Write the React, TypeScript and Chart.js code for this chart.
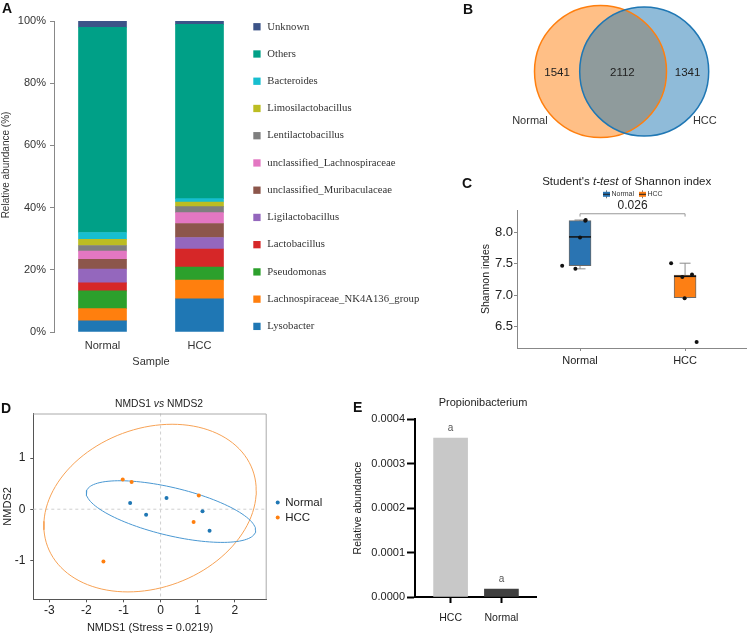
import React, { useEffect, useRef } from 'react';
import { Chart, registerables } from 'chart.js';

Chart.register(...registerables);

const FONT = "'Liberation Sans', Arial, sans-serif";
const SERIF = "'Liberation Serif', 'Times New Roman', serif";

// ---------- Panel A: stacked relative abundance ----------
const A_SAMPLES = ['Normal', 'HCC'];
const A_TAXA = [
  'Lysobacter',
  'Lachnospiraceae_NK4A136_group',
  'Pseudomonas',
  'Lactobacillus',
  'Ligilactobacillus',
  'unclassified_Muribaculaceae',
  'unclassified_Lachnospiraceae',
  'Lentilactobacillus',
  'Limosilactobacillus',
  'Bacteroides',
  'Others',
  'Unknown',
];
const A_NORMAL = [3.6, 3.9, 5.7, 2.6, 4.4, 3.2, 2.6, 1.8, 2.0, 2.2, 66.0, 2.0];
const A_HCC = [10.7, 6.0, 4.2, 5.8, 3.7, 4.5, 3.5, 1.9, 1.5, 1.1, 56.0, 1.1];
const A_COLORS = ['#1f77b4', '#ff7f0e', '#2ca02c', '#d62728', '#9467bd', '#8c564b', '#e377c2', '#7f7f7f', '#bcbd22', '#17becf', '#00a087', '#3c5488'];
const A_Y_TICKS = [0, 20, 40, 60, 80, 100];

// ---------- Panel B: Venn ----------
const B_SETS = ['Normal', 'HCC'];
const B_COUNTS = [1541, 2112, 1341]; // Normal only, shared, HCC only
const B_COLORS = ['#ff7f0e', '#1f77b4'];
const B_FILLS = ['rgba(255,127,14,0.5)', 'rgba(31,119,180,0.5)'];
const B_CENTERS = [-0.331, 0.331];
const B_RADII = [66, 64.5];

// ---------- Panel C: boxplot of Shannon index ----------
const C_GROUPS = ['Normal', 'HCC'];
const C_NORMAL_VALUES = [7.47, 7.42, 7.92, 8.19, 8.2];
const C_NORMAL_JITTER = [-0.17, -0.044, 0, 0.05, 0.054];
const C_HCC_VALUES = [7.51, 7.29, 7.33, 6.95, 6.25];
const C_HCC_JITTER = [-0.133, -0.026, 0.066, -0.004, 0.11];
const C_Q1 = [7.47, 6.96];
const C_MEDIAN = [7.93, 7.3];
const C_Q3 = [8.19, 7.32];
const C_WLO = [7.42, 6.96];
const C_WHI = [8.2, 7.51];
const C_COLORS = ['#2a74b2', '#fd7f14'];
const C_Y_TICKS = [6.5, 7.0, 7.5, 8.0];
const C_P_VALUE = '0.026';

// ---------- Panel D: NMDS ----------
const D_NORMAL_X = [-0.82, -0.39, 0.16, 1.13, 1.32];
const D_NORMAL_Y = [0.12, -0.11, 0.22, -0.04, -0.42];
const D_HCC_X = [-1.02, -0.78, 1.03, 0.89, -1.54];
const D_HCC_Y = [0.58, 0.53, 0.27, -0.25, -1.02];
const D_X_TICKS = [-3, -2, -1, 0, 1, 2];
const D_Y_TICKS = [-1, 0, 1];
const D_CHI2_95 = 5.991;

// ---------- Panel E: Propionibacterium ----------
const E_GROUPS = ['HCC', 'Normal'];
const E_VALUES = [0.000357, 0.000018];
const E_COLORS = ['#c8c8c8', '#404040'];
const E_SIG = ['a', 'a'];
const E_Y_TICKS = [0, 0.0001, 0.0002, 0.0003, 0.0004];

// ---------- helpers ----------
function confEllipse(xs: number[], ys: number[]) {
  const n = xs.length;
  const mx = xs.reduce((a, b) => a + b, 0) / n;
  const my = ys.reduce((a, b) => a + b, 0) / n;
  let sxx = 0, syy = 0, sxy = 0;
  for (let i = 0; i < n; i++) {
    sxx += (xs[i] - mx) ** 2;
    syy += (ys[i] - my) ** 2;
    sxy += (xs[i] - mx) * (ys[i] - my);
  }
  sxx /= n - 1; syy /= n - 1; sxy /= n - 1;
  const k = Math.sqrt(D_CHI2_95);
  const l11 = Math.sqrt(sxx);
  const l21 = sxy / l11;
  const l22 = Math.sqrt(Math.max(syy - l21 * l21, 0));
  const pts: { x: number; y: number }[] = [];
  for (let i = 0; i <= 120; i++) {
    const t = (i / 120) * Math.PI * 2;
    pts.push({ x: mx + k * l11 * Math.cos(t), y: my + k * (l21 * Math.cos(t) + l22 * Math.sin(t)) });
  }
  return pts;
}

function drawRich(ctx: CanvasRenderingContext2D, parts: { t: string; i?: boolean }[], cx: number, cy: number, size: number, color: string) {
  ctx.save();
  ctx.textBaseline = 'middle';
  ctx.fillStyle = color;
  let total = 0;
  const widths = parts.map((p) => {
    ctx.font = `${p.i ? 'italic ' : ''}${size}px ${FONT}`;
    const w = ctx.measureText(p.t).width;
    total += w;
    return w;
  });
  let x = cx - total / 2;
  parts.forEach((p, k) => {
    ctx.font = `${p.i ? 'italic ' : ''}${size}px ${FONT}`;
    ctx.textAlign = 'left';
    ctx.fillText(p.t, x, cy);
    x += widths[k];
  });
  ctx.restore();
}

function ChartCanvas({ x, y, w, h, make }: { x: number; y: number; w: number; h: number; make: () => any }) {
  const ref = useRef<HTMLCanvasElement | null>(null);
  useEffect(() => {
    const chart = new Chart(ref.current as HTMLCanvasElement, make());
    return () => chart.destroy();
  }, []);
  return (
    <canvas
      ref={ref}
      width={w}
      height={h}
      style={{ position: 'absolute', left: x, top: y, width: w, height: h }}
    />
  );
}

const noPlugins = { legend: { display: false }, tooltip: { enabled: false }, title: { display: false } };

// ---------- Panel A ----------
const aPlugin = {
  id: 'aPlugin',
  afterDraw(chart: any) {
    const { ctx, chartArea } = chart;
    const ds = chart.data.datasets;
    const n = ds.length;
    ctx.save();
    ctx.textBaseline = 'middle';
    ctx.textAlign = 'left';
    ctx.font = `10.7px ${SERIF}`;
    for (let k = 0; k < n; k++) {
      const d = ds[n - 1 - k];
      const yy = chartArea.top + 5.7 + k * 27.24;
      ctx.fillStyle = d.backgroundColor;
      ctx.fillRect(chartArea.right + 5.3, yy - 3.6, 7.3, 7.3);
      ctx.fillStyle = '#333';
      ctx.fillText(d.label, chartArea.right + 19.3, yy);
    }
    ctx.save();
    ctx.translate(6.5, 165);
    ctx.rotate(-Math.PI / 2);
    ctx.textAlign = 'center';
    ctx.font = `10px ${FONT}`;
    ctx.fillStyle = '#333';
    ctx.fillText('Relative abundance (%)', 0, 0);
    ctx.restore();
    ctx.restore();
  },
};

function makeA() {
  return {
    type: 'bar',
    data: {
      labels: A_SAMPLES,
      datasets: A_TAXA.map((t, i) => ({
        label: t,
        data: [A_NORMAL[i], A_HCC[i]],
        backgroundColor: A_COLORS[i],
        borderWidth: 0,
        barThickness: 48,
      })),
    },
    options: {
      animation: false,
      responsive: false,
      layout: { autoPadding: false, padding: { left: 0, top: 21, right: 212, bottom: 0 } },
      plugins: noPlugins,
      scales: {
        x: {
          stacked: true,
          grid: { display: false, drawTicks: false },
          border: { display: false },
          ticks: { padding: 7, font: { family: FONT, size: 11 }, color: '#333' },
          title: { display: true, text: 'Sample', font: { family: FONT, size: 11 }, color: '#333', padding: { top: 0, bottom: 11.7 } },
          afterFit: (s: any) => { s.height = 48; },
        },
        y: {
          stacked: true,
          min: 0,
          max: 100,
          afterBuildTicks: (s: any) => { s.ticks = A_Y_TICKS.map((v) => ({ value: v })); },
          ticks: { callback: (v: any) => v + '%', padding: 4, font: { family: FONT, size: 11 }, color: '#333' },
          grid: { drawOnChartArea: false, tickLength: 4, color: '#888' },
          border: { color: '#888' },
          afterFit: (s: any) => { s.width = 54; },
        },
      },
    },
    plugins: [aPlugin],
  };
}

// ---------- Panel B ----------
const bPlugin = {
  id: 'bPlugin',
  afterDatasetsDraw(chart: any) {
    const { ctx, scales } = chart;
    const xs = scales.x, ys = scales.y;
    const unit = xs.getPixelForValue(1) - xs.getPixelForValue(0);
    const r0 = B_RADII[0] / unit, r1 = B_RADII[1] / unit;
    const posX = [
      (B_CENTERS[0] - r0 + B_CENTERS[1] - r1) / 2,
      (B_CENTERS[0] + B_CENTERS[1]) / 2,
      (B_CENTERS[0] + r0 + B_CENTERS[1] + r1) / 2,
    ];
    ctx.save();
    ctx.textAlign = 'center';
    ctx.textBaseline = 'middle';
    ctx.fillStyle = '#222';
    ctx.font = `11.5px ${FONT}`;
    B_COUNTS.forEach((c, i) => ctx.fillText(String(c), xs.getPixelForValue(posX[i]), ys.getPixelForValue(0) + 1.5));
    ctx.fillStyle = '#333';
    ctx.font = `11px ${FONT}`;
    ctx.fillText(B_SETS[0], xs.getPixelForValue(B_CENTERS[0] - 1.07 * r0), ys.getPixelForValue(-0.75 * r0));
    ctx.fillText(B_SETS[1], xs.getPixelForValue(B_CENTERS[1] + 0.94 * r1), ys.getPixelForValue(-0.77 * r1));
    ctx.restore();
  },
};

function makeB() {
  const fills = B_SETS.map((s, i) => ({
    label: s,
    data: [{ x: B_CENTERS[i], y: 0, r: B_RADII[i] }],
    backgroundColor: B_FILLS[i],
    borderWidth: 0,
    clip: false,
    order: 4 - i,
  }));
  const outlines = B_SETS.map((s, i) => ({
    label: s + ' outline',
    data: [{ x: B_CENTERS[i], y: 0, r: B_RADII[i] }],
    backgroundColor: 'rgba(0,0,0,0)',
    borderColor: B_COLORS[i],
    borderWidth: 1.5,
    clip: false,
    order: 2 - i,
  }));
  return {
    type: 'bubble',
    data: { datasets: [...fills, ...outlines] },
    options: {
      animation: false,
      responsive: false,
      layout: { autoPadding: false, padding: 0 },
      plugins: noPlugins,
      scales: {
        x: { type: 'linear', display: false, min: -2.46, max: 1.934 },
        y: { type: 'linear', display: false, min: -1.492, max: 1.083 },
      },
    },
    plugins: [bPlugin],
  };
}

// ---------- Panel C ----------
const cPlugin = {
  id: 'cPlugin',
  afterDraw(chart: any) {
    const { ctx, scales } = chart;
    drawRich(ctx, [{ t: "Student's " }, { t: 't-test', i: true }, { t: ' of Shannon index' }], 166.7, 11.7, 11.5, '#222');
    ctx.save();
    const ly = 24.3;
    const items = [
      { x: 146.5, label: C_GROUPS[0], c: C_COLORS[0] },
      { x: 182.5, label: C_GROUPS[1], c: C_COLORS[1] },
    ];
    ctx.font = `7px ${FONT}`;
    ctx.textBaseline = 'middle';
    ctx.textAlign = 'left';
    items.forEach((it) => {
      ctx.strokeStyle = '#777';
      ctx.lineWidth = 1;
      ctx.beginPath();
      ctx.moveTo(it.x, ly - 4);
      ctx.lineTo(it.x, ly + 4);
      ctx.stroke();
      ctx.fillStyle = it.c;
      ctx.fillRect(it.x - 3.5, ly - 2.5, 7, 5);
      ctx.strokeStyle = '#222';
      ctx.beginPath();
      ctx.moveTo(it.x - 3.5, ly);
      ctx.lineTo(it.x + 3.5, ly);
      ctx.stroke();
      ctx.fillStyle = '#333';
      ctx.fillText(it.label, it.x + 5, ly);
    });
    const x1 = scales.x.getPixelForValue(1), x2 = scales.x.getPixelForValue(2);
    const yb = scales.y.getPixelForValue(8.3), yt = scales.y.getPixelForValue(8.255);
    ctx.strokeStyle = '#999';
    ctx.lineWidth = 1;
    ctx.beginPath();
    ctx.moveTo(x1, yt);
    ctx.lineTo(x1, yb);
    ctx.lineTo(x2, yb);
    ctx.lineTo(x2, yt);
    ctx.stroke();
    ctx.fillStyle = '#222';
    ctx.textAlign = 'center';
    ctx.font = `12px ${FONT}`;
    ctx.fillText(C_P_VALUE, (x1 + x2) / 2, yb - 8);
    ctx.restore();
  },
};

function makeC() {
  const pts = [
    ...C_NORMAL_VALUES.map((v, i) => ({ x: 1 + C_NORMAL_JITTER[i], y: v })),
    ...C_HCC_VALUES.map((v, i) => ({ x: 2 + C_HCC_JITTER[i], y: v })),
  ];
  const caps = C_GROUPS.flatMap((g, i) => [{ x: i + 1, y: C_WLO[i] }, { x: i + 1, y: C_WHI[i] }]);
  return {
    type: 'bar',
    data: {
      datasets: [
        ...C_GROUPS.map((g, i) => ({
          type: 'line',
          label: g + ' whisker',
          data: [{ x: i + 1, y: C_WLO[i] }, { x: i + 1, y: C_WHI[i] }],
          borderColor: '#8c8c8c',
          borderWidth: 1,
          pointRadius: 0,
          order: 6,
        })),
        { type: 'scatter', label: 'caps', data: caps, pointStyle: 'line', pointRadius: 5.5, borderColor: '#8c8c8c', borderWidth: 1, order: 5 },
        {
          type: 'bar',
          label: 'box',
          data: C_GROUPS.map((g, i) => ({ x: i + 1, y: [C_Q1[i], C_Q3[i]] })),
          backgroundColor: C_COLORS,
          borderColor: '#6b6b6b',
          borderWidth: 1,
          borderSkipped: false,
          barThickness: 22,
          order: 4,
        },
        { type: 'scatter', label: 'median', data: C_GROUPS.map((g, i) => ({ x: i + 1, y: C_MEDIAN[i] })), pointStyle: 'line', pointRadius: 11, borderColor: '#111', borderWidth: 1.5, order: 3 },
        { type: 'scatter', label: 'points', data: pts, pointRadius: 2, backgroundColor: '#111', borderWidth: 0, order: 1 },
      ],
    },
    options: {
      animation: false,
      responsive: false,
      layout: { autoPadding: false, padding: { left: 0, top: 40, right: 4, bottom: 0 } },
      plugins: noPlugins,
      scales: {
        x: {
          type: 'linear',
          offset: false,
          min: 0.4,
          max: 2.58,
          afterBuildTicks: (s: any) => { s.ticks = C_GROUPS.map((g, i) => ({ value: i + 1 })); },
          ticks: { callback: (v: any) => C_GROUPS[v - 1] ?? '', padding: 3.8, font: { family: FONT, size: 11 }, color: '#222' },
          grid: { offset: false, drawOnChartArea: false, tickLength: 3, color: '#888' },
          border: { color: '#888' },
          afterFit: (s: any) => { s.height = 27; },
        },
        y: {
          min: 6.155,
          max: 8.36,
          afterBuildTicks: (s: any) => { s.ticks = C_Y_TICKS.map((v) => ({ value: v })); },
          ticks: { callback: (v: any) => Number(v).toFixed(1), padding: 1, font: { family: FONT, size: 13 }, color: '#222' },
          grid: { drawOnChartArea: false, tickLength: 3, color: '#888' },
          border: { color: '#888' },
          title: { display: true, text: 'Shannon indes', font: { family: FONT, size: 10.5 }, color: '#222', padding: { top: 20 } },
          afterFit: (s: any) => { s.width = 57; },
        },
      },
    },
    plugins: [cPlugin],
  };
}

// ---------- Panel D ----------
const dPlugin = {
  id: 'dPlugin',
  beforeDatasetsDraw(chart: any) {
    const { ctx, chartArea, scales } = chart;
    ctx.save();
    ctx.strokeStyle = '#cfcfcf';
    ctx.lineWidth = 1;
    ctx.setLineDash([3, 3]);
    const x0 = scales.x.getPixelForValue(0), y0 = scales.y.getPixelForValue(0);
    ctx.beginPath();
    ctx.moveTo(x0, chartArea.top);
    ctx.lineTo(x0, chartArea.bottom);
    ctx.moveTo(chartArea.left, y0);
    ctx.lineTo(chartArea.right, y0);
    ctx.stroke();
    ctx.setLineDash([]);
    ctx.strokeStyle = '#aaa';
    ctx.beginPath();
    ctx.moveTo(chartArea.left, chartArea.top + 0.5);
    ctx.lineTo(chartArea.right - 0.5, chartArea.top + 0.5);
    ctx.lineTo(chartArea.right - 0.5, chartArea.bottom);
    ctx.stroke();
    ctx.restore();
  },
  afterDraw(chart: any) {
    const { ctx, chartArea } = chart;
    drawRich(ctx, [{ t: 'NMDS1 ' }, { t: 'vs', i: true }, { t: ' NMDS2' }], (chartArea.left + chartArea.right) / 2 + 9, 14, 10.3, '#222');
    const cy = (chartArea.top + chartArea.bottom) / 2;
    const items = [
      { y: cy - 4, label: 'Normal', c: '#1f77b4' },
      { y: cy + 11, label: 'HCC', c: '#ff7f0e' },
    ];
    ctx.save();
    ctx.font = `11.5px ${FONT}`;
    ctx.textBaseline = 'middle';
    ctx.textAlign = 'left';
    items.forEach((it) => {
      ctx.fillStyle = it.c;
      ctx.beginPath();
      ctx.arc(chartArea.right + 11, it.y, 2, 0, Math.PI * 2);
      ctx.fill();
      ctx.fillStyle = '#222';
      ctx.fillText(it.label, chartArea.right + 18.5, it.y);
    });
    ctx.restore();
  },
};

function makeD() {
  return {
    type: 'scatter',
    data: {
      datasets: [
        { label: 'Normal', data: D_NORMAL_X.map((x, i) => ({ x, y: D_NORMAL_Y[i] })), backgroundColor: '#1f77b4', borderWidth: 0, pointRadius: 2, order: 1 },
        { label: 'HCC', data: D_HCC_X.map((x, i) => ({ x, y: D_HCC_Y[i] })), backgroundColor: '#ff7f0e', borderWidth: 0, pointRadius: 2, order: 1 },
        { label: 'Normal ellipse', data: confEllipse(D_NORMAL_X, D_NORMAL_Y), showLine: true, borderColor: '#4a98d2', borderWidth: 1, pointRadius: 0, tension: 0, order: 2 },
        { label: 'HCC ellipse', data: confEllipse(D_HCC_X, D_HCC_Y), showLine: true, borderColor: '#f7a255', borderWidth: 1, pointRadius: 0, tension: 0, order: 2 },
      ],
    },
    options: {
      animation: false,
      responsive: false,
      layout: { autoPadding: false, padding: { left: 0, top: 23.5, right: 93.3, bottom: 0 } },
      plugins: noPlugins,
      scales: {
        x: {
          type: 'linear',
          min: -3.43,
          max: 2.86,
          afterBuildTicks: (s: any) => { s.ticks = D_X_TICKS.map((v) => ({ value: v })); },
          ticks: { padding: 1, font: { family: FONT, size: 12 }, color: '#222' },
          grid: { drawOnChartArea: false, tickLength: 3, color: '#555' },
          border: { color: '#555' },
          title: { display: true, text: 'NMDS1 (Stress = 0.0219)', font: { family: FONT, size: 11 }, color: '#222', padding: { top: 0, bottom: 7.1 } },
          afterFit: (s: any) => { s.height = 42.7; },
        },
        y: {
          type: 'linear',
          min: -1.76,
          max: 1.87,
          afterBuildTicks: (s: any) => { s.ticks = D_Y_TICKS.map((v) => ({ value: v })); },
          ticks: { padding: 5, font: { family: FONT, size: 12 }, color: '#222' },
          grid: { drawOnChartArea: false, tickLength: 3, color: '#555' },
          border: { color: '#555' },
          title: { display: true, text: 'NMDS2', font: { family: FONT, size: 11 }, color: '#222', padding: { top: 1 } },
          afterFit: (s: any) => { s.width = 33.3; },
        },
      },
    },
    plugins: [dPlugin],
  };
}

// ---------- Panel E ----------
const ePlugin = {
  id: 'ePlugin',
  afterDatasetsDraw(chart: any) {
    const { ctx, chartArea } = chart;
    const meta = chart.getDatasetMeta(0);
    ctx.save();
    ctx.textAlign = 'center';
    ctx.textBaseline = 'middle';
    ctx.fillStyle = '#555';
    ctx.font = `10px ${FONT}`;
    meta.data.forEach((el: any, i: number) => ctx.fillText(E_SIG[i], el.x, el.y - 10));
    ctx.fillStyle = '#222';
    ctx.font = `11px ${FONT}`;
    ctx.fillText('Propionibacterium', (chartArea.left + chartArea.right) / 2 + 7.5, 13);
    ctx.restore();
  },
};

function makeE() {
  return {
    type: 'bar',
    data: {
      datasets: [
        {
          label: 'Propionibacterium',
          data: E_VALUES.map((v, i) => ({ x: i + 1, y: v })),
          backgroundColor: E_COLORS,
          borderWidth: 0,
          barThickness: 34,
        },
      ],
    },
    options: {
      animation: false,
      responsive: false,
      layout: { autoPadding: false, padding: { left: 0, top: 29, right: 24, bottom: 0 } },
      plugins: noPlugins,
      scales: {
        x: {
          type: 'linear',
          offset: false,
          min: 0.3,
          max: 2.68,
          afterBuildTicks: (s: any) => { s.ticks = E_GROUPS.map((g, i) => ({ value: i + 1 })); },
          ticks: { callback: (v: any) => E_GROUPS[v - 1] ?? '', padding: 8.4, font: { family: FONT, size: 10.5 }, color: '#222' },
          grid: { offset: false, drawOnChartArea: false, tickLength: 6, tickWidth: 2, tickColor: '#000' },
          border: { color: '#000', width: 2 },
          afterFit: (s: any) => { s.height = 45; },
        },
        y: {
          min: 0,
          max: 0.0004,
          afterBuildTicks: (s: any) => { s.ticks = E_Y_TICKS.map((v) => ({ value: v })); },
          ticks: { callback: (v: any) => Number(v).toFixed(4), padding: 2, font: { family: FONT, size: 11 }, color: '#222' },
          grid: { drawOnChartArea: false, tickLength: 8, tickWidth: 2, tickColor: '#000' },
          border: { color: '#000', width: 2 },
          title: { display: true, text: 'Relative abundance', font: { family: FONT, size: 10.5 }, color: '#222', padding: { top: 11.7 } },
          afterFit: (s: any) => { s.width = 75; },
        },
      },
    },
    plugins: [ePlugin],
  };
}

const LETTERS = [
  { t: 'A', x: 2, y: 1 },
  { t: 'B', x: 463, y: 1.5 },
  { t: 'C', x: 462, y: 176 },
  { t: 'D', x: 1, y: 401 },
  { t: 'E', x: 353, y: 400 },
];

export default function App() {
  return (
    <div style={{ position: 'absolute', left: 0, top: 0, width: 750, height: 642, background: '#fff', overflow: 'hidden' }}>
      <ChartCanvas x={0} y={0} w={460} h={380} make={makeA} />
      <ChartCanvas x={460} y={0} w={290} h={170} make={makeB} />
      <ChartCanvas x={460} y={170} w={290} h={205} make={makeC} />
      <ChartCanvas x={0} y={390} w={360} h={252} make={makeD} />
      <ChartCanvas x={340} y={390} w={220} h={252} make={makeE} />
      {LETTERS.map((l) => (
        <div
          key={l.t}
          style={{ position: 'absolute', left: l.x, top: l.y, font: `bold 14px ${FONT}`, lineHeight: '14px', color: '#111' }}
        >
          {l.t}
        </div>
      ))}
    </div>
  );
}
